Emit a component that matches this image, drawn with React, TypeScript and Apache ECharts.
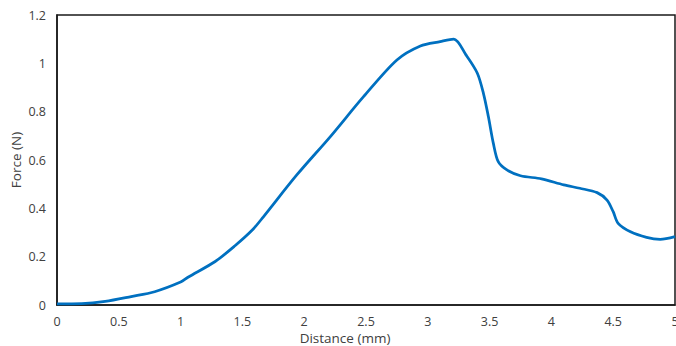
import React, { useEffect, useRef } from "react";
import * as echarts from "echarts";

const distance = [
  0, 0.2, 0.39, 0.6, 0.79, 1.0, 1.06, 1.28, 1.44, 1.58, 1.67, 1.94, 2.21, 2.48,
  2.75, 2.94, 3.1, 3.21, 3.31, 3.4, 3.45, 3.49, 3.53, 3.57, 3.64, 3.75, 3.92,
  4.1, 4.23, 4.37, 4.45, 4.5, 4.54, 4.64, 4.77, 4.88, 5.0,
];
const force = [
  0.005, 0.006, 0.015, 0.035, 0.055, 0.095, 0.115, 0.18, 0.245, 0.31, 0.365,
  0.538, 0.696, 0.862, 1.014, 1.072, 1.09, 1.1, 1.034, 0.96, 0.876, 0.78, 0.67,
  0.593, 0.559, 0.535, 0.522, 0.497, 0.483, 0.465, 0.434, 0.386, 0.338, 0.303,
  0.28, 0.272, 0.283,
];

const FONT = "Open Sans";
const TEXT = "#404040";

export default function App() {
  const ref = useRef<HTMLDivElement>(null);
  useEffect(() => {
    if (!ref.current) return;
    const chart = echarts.init(ref.current, null, { renderer: "svg" });
    chart.setOption({
      animation: false,
      grid: {
        left: 57,
        top: 15,
        right: 1,
        bottom: 41,
        show: true,
        borderColor: "#1a1a1a",
        borderWidth: 1.5,
        containLabel: false,
        outerBoundsMode: "none",
      },
      xAxis: {
        type: "value",
        min: 0,
        max: 5,
        interval: 0.5,
        name: "Distance (mm)",
        nameLocation: "middle",
        nameGap: 26,
        nameMoveOverlap: false,
        nameTextStyle: {
          fontFamily: FONT,
          fontSize: 13.5,
          lineHeight: 14,
          color: TEXT,
          padding: [0, 42, 0, 0],
        },
        axisLine: { show: true, lineStyle: { color: "#1a1a1a", width: 1.5 } },
        axisTick: { show: false },
        splitLine: { show: false },
        axisLabel: {
          fontFamily: FONT,
          fontSize: 12.5,
          lineHeight: 13,
          color: TEXT,
          margin: 10,
        },
      },
      yAxis: {
        type: "value",
        min: 0,
        max: 1.2,
        interval: 0.2,
        name: "Force (N)",
        nameLocation: "middle",
        nameGap: 34,
        nameMoveOverlap: false,
        nameTextStyle: { fontFamily: FONT, fontSize: 13.5, color: TEXT },
        axisLine: { show: true, lineStyle: { color: "#1a1a1a", width: 1.5 } },
        axisTick: { show: false },
        splitLine: { show: false },
        axisLabel: { fontFamily: FONT, fontSize: 12.5, color: TEXT, margin: 11 },
      },
      series: [
        {
          type: "line",
          data: distance.map((d, i) => [d, force[i]]),
          showSymbol: false,
          smooth: 0.3,
          lineStyle: { color: "#0070C0", width: 2.75 },
        },
      ],
    });
    return () => chart.dispose();
  }, []);
  return (
    <div
      ref={ref}
      style={{ position: "absolute", left: 0, top: 0, width: 676, height: 346 }}
    />
  );
}
